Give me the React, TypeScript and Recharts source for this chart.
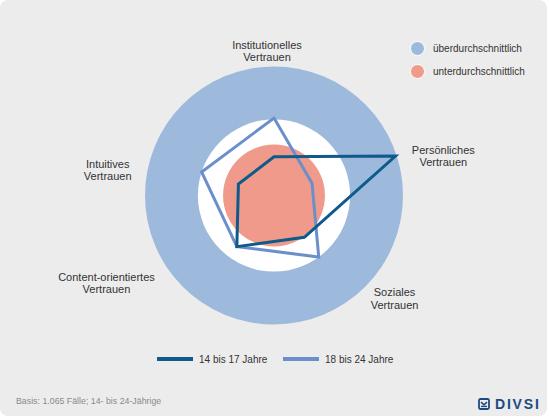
import { RadarChart, Radar, PolarAngleAxis, PolarRadiusAxis } from 'recharts'

// Axis categories, clockwise from the top
const categories = [
  'Institutionelles Vertrauen',
  'Persönliches Vertrauen',
  'Soziales Vertrauen',
  'Content-orientiertes Vertrauen',
  'Intuitives Vertrauen',
]

// Series values (0..100 index scale)
const values14to17 = [30, 99, 40, 49, 29]
const values18to24 = [60, 31, 59, 49, 59]

// Background bands
const aboveAverageBand = [100, 100, 100, 100, 100]
const neutralBand = [59, 59, 59, 59, 59]
const belowAverageBand = [39.5, 39.5, 39.5, 39.5, 39.5]

const seriesNames = ['14 bis 17 Jahre', '18 bis 24 Jahre']
const bandNames = ['überdurchschnittlich', 'unterdurchschnittlich']

const DARK = '#0e5a8a'
const LIGHT = '#6b8fcb'
const BLUE = '#9dbadd'
const RED = '#f09a8b'
const FONT = '"Liberation Sans", Arial, sans-serif'

const chartData = categories.map((name, i) => ({
  name,
  above: aboveAverageBand[i],
  neutral: neutralBand[i],
  below: belowAverageBand[i],
  young: values14to17[i],
  old: values18to24[i],
}))

// label placement relative to the tick anchor the axis hands us
const labelOffsets: Record<string, [number, number]> = {
  'Institutionelles Vertrauen': [-7, -10],
  'Persönliches Vertrauen': [39, 1],
  'Soziales Vertrauen': [40, -10],
  'Content-orientiertes Vertrauen': [-87, -25.5],
  'Intuitives Vertrauen': [-36, 15],
}

function circleShape(fill: string) {
  return (props: any) => {
    const p = props.points?.[0]
    if (!p) return <g />
    const r = p.radius ?? Math.hypot(p.x - p.cx, p.y - p.cy)
    return <circle cx={p.cx} cy={p.cy} r={r} fill={fill} />
  }
}

function AxisLabel(props: any) {
  const { x, y, payload } = props
  const [dx, dy] = labelOffsets[payload.value] ?? [0, 0]
  const idx = payload.value.lastIndexOf(' ')
  const lines = [payload.value.slice(0, idx), payload.value.slice(idx + 1)]
  return (
    <text x={x + dx} y={y + dy} textAnchor="middle" fontSize={11} fill="#333" fontFamily={FONT}>
      {lines.map((l, i) => (
        <tspan key={i} x={x + dx} dy={i === 0 ? 0 : 12.3}>
          {l}
        </tspan>
      ))}
    </text>
  )
}

export default function App() {
  return (
    <div style={{ position: 'absolute', left: 0, top: 0, width: 549, height: 418, background: '#fff', fontFamily: FONT }}>
      <div style={{ position: 'absolute', left: 0, top: 0, width: 547, height: 416, background: '#ececec', borderRadius: 8 }} />
      <div style={{ position: 'absolute', left: 0, top: 0 }}>
        <RadarChart
          width={549}
          height={418}
          data={chartData}
          cx={274}
          cy={195.5}
          outerRadius={129}
          margin={{ top: 0, right: 0, bottom: 0, left: 0 }}
        >
          <PolarRadiusAxis domain={[0, 100]} tick={false} axisLine={false} />
          <PolarAngleAxis dataKey="name" tick={<AxisLabel />} axisLine={false} tickLine={false} />
          <Radar dataKey="above" shape={circleShape(BLUE)} isAnimationActive={false} />
          <Radar dataKey="neutral" shape={circleShape('#ffffff')} isAnimationActive={false} />
          <Radar dataKey="below" shape={circleShape(RED)} isAnimationActive={false} />
          <Radar
            dataKey="old"
            name={seriesNames[1]}
            stroke={LIGHT}
            strokeWidth={3}
            fill="none"
            fillOpacity={0}
            dot={false}
            isAnimationActive={false}
          />
          <Radar
            dataKey="young"
            name={seriesNames[0]}
            stroke={DARK}
            strokeWidth={3}
            fill="none"
            fillOpacity={0}
            dot={false}
            isAnimationActive={false}
          />
        </RadarChart>
      </div>

      {/* band legend, top right */}
      {bandNames.map((label, i) => (
        <div key={label} style={{ position: 'absolute', left: 410, top: 40 + i * 23.4, height: 16, display: 'flex', alignItems: 'center' }}>
          <div
            style={{
              width: 15,
              height: 15,
              borderRadius: '50%',
              background: i === 0 ? BLUE : RED,
              border: '1px solid #fff',
              boxSizing: 'border-box',
            }}
          />
          <span style={{ marginLeft: 8, fontSize: 10, color: '#333' }}>{label}</span>
        </div>
      ))}

      {/* series legend, bottom */}
      {seriesNames.map((label, i) => (
        <div key={label} style={{ position: 'absolute', left: 157 + i * 126, top: 351, height: 16, display: 'flex', alignItems: 'center' }}>
          <div style={{ width: 36, height: 3.5, background: i === 0 ? DARK : LIGHT }} />
          <span style={{ marginLeft: 6, fontSize: 10, color: '#333' }}>{label}</span>
        </div>
      ))}

      <div style={{ position: 'absolute', left: 16, top: 396, fontSize: 8.8, color: '#8a8a8a' }}>
        Basis: 1.065 Fälle; 14- bis 24-Jährige
      </div>

      <div style={{ position: 'absolute', left: 478, top: 397, display: 'flex', alignItems: 'center' }}>
        <svg width={12} height={12} viewBox="0 0 12 12">
          <rect x={1} y={1} width={10} height={10} rx={1.5} fill="none" stroke="#1c4a82" strokeWidth={1.8} />
          <path d="M3 4.2 L6 6.8 L9 4.2" fill="none" stroke="#1c4a82" strokeWidth={1.6} />
          <path d="M3 8.4 H9" stroke="#1c4a82" strokeWidth={1.4} />
        </svg>
        <span style={{ marginLeft: 5, fontSize: 14, fontWeight: 700, color: '#1c4a82', letterSpacing: 1.8, lineHeight: '14px' }}>
          DIVSI
        </span>
      </div>
    </div>
  )
}
